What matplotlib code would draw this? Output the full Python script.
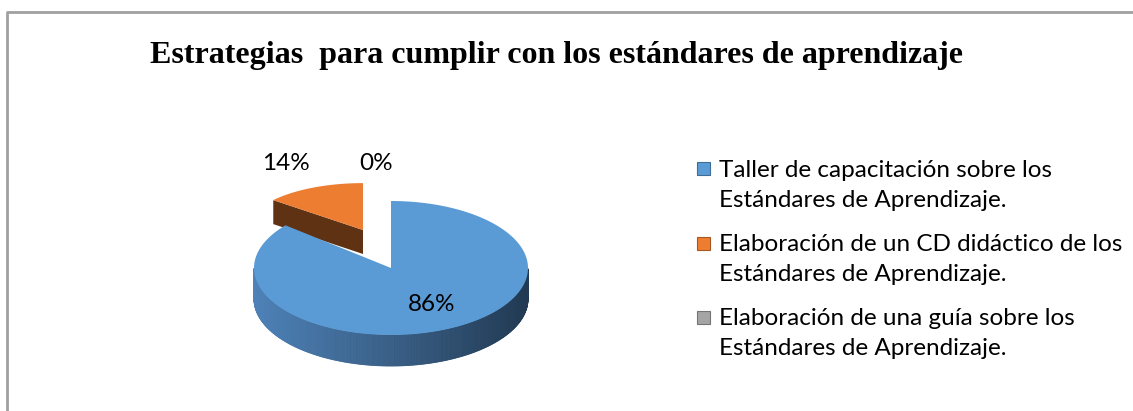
"""
Pie chart (3D look) - estrategias para cumplir con los estándares.
"""

import numpy as np
import matplotlib
matplotlib.use("Agg")
import matplotlib.pyplot as plt
from matplotlib.patches import Polygon, Rectangle
from matplotlib.colors import to_rgb

# --- data ---
labels = [
    "Taller de capacitación sobre los\nEstándares de Aprendizaje.",
    "Elaboración de un CD didáctico de los\nEstándares de Aprendizaje.",
    "Elaboración de una guía sobre los\nEstándares de Aprendizaje.",
]
values = [86, 14, 0]
pct_labels = ["86%", "14%", "0%"]
top_colors = ["#5B9BD5", "#ED7D31", "#A5A5A5"]
side_colors = [("#4E82B8", "#223A53"), ("#5E3213", "#5E3213"), ("#6E6E6E", "#6E6E6E")]
title = "Estrategias  para cumplir con los estándares de aprendizaje"

# --- layout (pixel space) ---
W, H = 1133, 411
CX, CY = 391, 268      # pie centre
A, B = 137, 67         # ellipse semi axes
DEPTH = 31
EXPLODED = {1: ((-28, -38), 0.85, 0.70, 24)}   # slice -> (offset, x scale, y scale, depth)
TXT_FONT = ["Lato", "DejaVu Sans"]

fig = plt.figure(figsize=(W / 100, H / 100), dpi=100)
ax = fig.add_axes([0, 0, 1, 1])
ax.set_xlim(0, W)
ax.set_ylim(H, 0)
ax.axis("off")

# frame (only left and top edges are visible in the original)
ax.plot([6.5, 6.5, W + 5], [H + 5, 12.5, 12.5], color="#A0A0A0", lw=2)

ax.text(556, 55, title, ha="center", va="center", fontsize=23, fontweight="bold",
        family="Liberation Serif")


def ell(t, cx, cy, a, b, dz=0.0):
    return cx + a * np.cos(t), cy - b * np.sin(t) + dz


def mix(c1, c2, f):
    c1, c2 = np.array(to_rgb(c1)), np.array(to_rgb(c2))
    return tuple(c1 + (c2 - c1) * f)


# slice angles: start at 12 o'clock, clockwise
total = sum(values)
starts, ends = [], []
ang = 90.0
for v in values:
    span = 360.0 * v / total
    starts.append(ang - span)
    ends.append(ang)
    ang -= span

# draw back slices first (exploded slice sits behind the big one)
order = sorted(range(len(values)), key=lambda i: 0 if i in EXPLODED else 1)
for i in order:
    if values[i] == 0:
        continue
    t0, t1 = np.radians(starts[i]), np.radians(ends[i])
    (ox, oy), sx, sy, d = EXPLODED.get(i, ((0, 0), 1.0, 1.0, DEPTH))
    cx, cy, a, b = CX + ox, CY + oy, A * sx, B * sy

    # outer side, front half only, shaded left -> right
    ts = np.linspace(t0, t1, 600)
    front = ts[np.sin(ts) <= 0]
    for k in range(len(front) - 1):
        ta, tb = front[k], front[k + 1]
        xa, ya = ell(ta, cx, cy, a, b)
        xb, yb = ell(tb, cx, cy, a, b)
        f = (xa - cx + a) / (2 * a)
        c = mix(*side_colors[i], f)
        ax.add_patch(Polygon([(xa, ya), (xb, yb), (xb, yb + d), (xa, ya + d)],
                             closed=True, fc=c, ec=c, lw=0.6))

    # cut faces that turn towards the viewer
    for te, sgn in ((t1, 1), (t0, -1)):
        ny = sgn * np.cos(te)
        nx = -sgn * np.sin(te)
        if ny < 0 and abs(nx) < 0.99 and values[i] < total:
            ex, ey = ell(te, cx, cy, a, b)
            ax.add_patch(Polygon([(cx, cy), (ex, ey), (ex, ey + d), (cx, cy + d)],
                                 closed=True, fc=side_colors[i][0], ec="none"))

    # top face
    ts = np.linspace(t0, t1, 300)
    px, py = ell(ts, cx, cy, a, b)
    pts = [(cx, cy)] + list(zip(px, py))
    ax.add_patch(Polygon(pts, closed=True, fc=top_colors[i], ec="none"))

# percentage labels
mid0 = np.radians((starts[0] + ends[0]) / 2)
lx, ly = ell(mid0, CX, CY, A * 0.6, B * 0.6)
ax.text(lx + 6, ly, pct_labels[0], ha="center", va="center", fontsize=17.5, family=TXT_FONT)
ax.text(286, 163, pct_labels[1], ha="center", va="center", fontsize=17.5, family=TXT_FONT)
ax.text(376, 163, pct_labels[2], ha="center", va="center", fontsize=17.5, family=TXT_FONT)

# legend
for k, (lab, col) in enumerate(zip(labels, top_colors)):
    yc = 185.5 + 74 * k
    ax.add_patch(Rectangle((697, yc - 23), 13, 13, fc=col,
                           ec=mix(col, "#000000", 0.3), lw=0.8))
    ax.text(719, yc, lab, ha="left", va="center", fontsize=17.5, family=TXT_FONT,
            linespacing=1.5)

fig.savefig("out.png", dpi=100)
